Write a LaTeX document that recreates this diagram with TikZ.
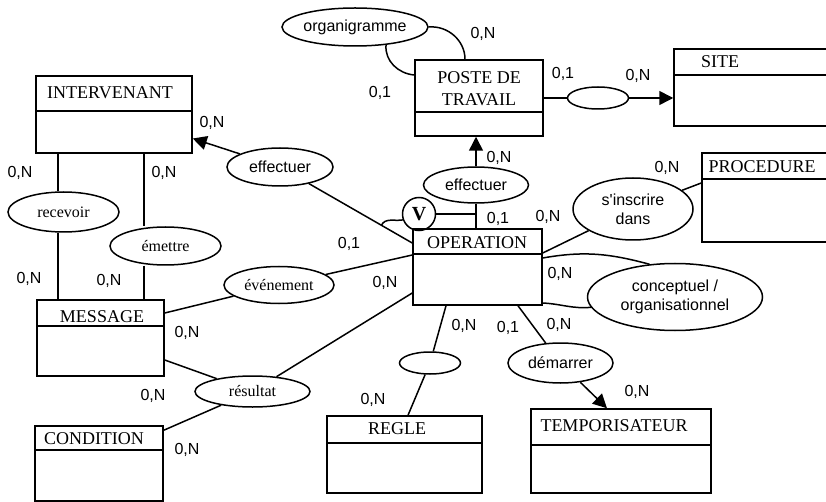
\documentclass[tikz,border=0pt]{standalone}
\usepackage{fontspec}
\setmainfont{Liberation Serif}
\setsansfont{Liberation Sans}
\font\droitsans="Liberation Sans" at 16pt
\usetikzlibrary{shapes.geometric,arrows.meta,calc}

\tikzset{
  entite/.style={draw, line width=1.5pt, rectangle, inner sep=0pt},
  titre/.style={font=\fontsize{18}{21.5}\selectfont, inner sep=0pt, align=center, text depth=0pt},
  asso/.style={draw, line width=1.5pt, ellipse, inner sep=0pt, align=center, font=\sffamily\fontsize{16}{19}\selectfont},
  assoserif/.style={asso, font=\rmfamily\fontsize{16}{19}\selectfont},
  card/.style={font=\sffamily\fontsize{16}{19}\selectfont, inner sep=0pt, text depth=0pt},
  lien/.style={line width=1.5pt},
  fleche/.style={line width=1.5pt, -{Triangle[length=14pt,width=14pt]}},
}

\begin{document}
\begin{tikzpicture}[x=1pt,y=-1pt]
\useasboundingbox (0,0) rectangle (826,502);

% entites
\node[entite, minimum width=128pt, minimum height=76pt] (poste) at (479,98) {};
\node[titre] (posteT) at (479,88.5) {POSTE DE\\TRAVAIL};
\draw[lien] (poste.west |- 0,112) -- (poste.east |- 0,112);

\node[entite, minimum width=176pt, minimum height=77pt] (site) at (762,87.5) {};
\node[titre] (siteT) at (720,62) {SITE};
\draw[lien] (site.west |- 0,75) -- (site.east |- 0,75);

\node[entite, minimum width=156pt, minimum height=77pt] (interv) at (114,114.5) {};
\node[titre] (intervT) at (110,93) {INTERVENANT};
\draw[lien] (interv.west |- 0,111) -- (interv.east |- 0,111);

\node[entite, minimum width=138pt, minimum height=89pt] (proc) at (771,197.5) {};
\node[titre] (procT) at (762,167) {PROCEDURE};
\draw[lien] (proc.west |- 0,179) -- (proc.east |- 0,179);

\node[entite, minimum width=129pt, minimum height=76pt] (oper) at (477.5,267) {};
\node[titre] (operT) at (477,243) {OPERATION};
\draw[lien] (oper.west |- 0,254) -- (oper.east |- 0,254);

\node[entite, minimum width=127pt, minimum height=76pt] (msg) at (100.5,338) {};
\node[titre] (msgT) at (102,317) {MESSAGE};
\draw[lien] (msg.west |- 0,326) -- (msg.east |- 0,326);

\node[entite, minimum width=128pt, minimum height=75pt] (cond) at (99,463.5) {};
\node[titre] (condT) at (94,439) {CONDITION};
\draw[lien] (cond.west |- 0,450) -- (cond.east |- 0,450);

\node[entite, minimum width=155pt, minimum height=77pt] (regle) at (404.5,454.5) {};
\node[titre] (regleT) at (397,429) {REGLE};
\draw[lien] (regle.west |- 0,443) -- (regle.east |- 0,443);

\node[entite, minimum width=180pt, minimum height=84pt] (tempo) at (621,451) {};
\node[titre] (tempoT) at (614,426) {TEMPORISATEUR};
\draw[lien] (tempo.west |- 0,445) -- (tempo.east |- 0,445);

% associations
\node[asso, minimum width=146pt, minimum height=38pt] (organi) at (355,27) {organigramme};
\node[asso, minimum width=61pt, minimum height=22pt] (rposte) at (598,98) {};
\node[asso, minimum width=106pt, minimum height=38pt] (effint) at (280,167) {effectuer};
\node[asso, minimum width=105pt, minimum height=36pt] (effpos) at (476,185) {effectuer};
\node[draw, line width=1.5pt, circle, inner sep=0pt, minimum size=33pt, font=\rmfamily\bfseries\fontsize{20}{22}\selectfont] (vcirc) at (419,214) {V};
\node[asso, minimum width=120pt, minimum height=62pt] (inscr) at (633,209) {s{\droitsans'}inscrire\\dans};
\node[asso, minimum width=175pt, minimum height=67pt] (concept) at (675,297) {conceptuel /\\organisationnel};
\node[assoserif, minimum width=111pt, minimum height=40pt] (recev) at (63.5,212) {recevoir};
\node[assoserif, minimum width=111pt, minimum height=38pt] (emet) at (165.5,246) {émettre};
\node[assoserif, minimum width=110pt, minimum height=37pt] (evt) at (279,285) {événement};
\node[assoserif, minimum width=115pt, minimum height=31pt] (result) at (252.5,391.5) {résultat};
\node[asso, minimum width=61pt, minimum height=22pt] (rregle) at (430,363) {};
\node[asso, minimum width=105pt, minimum height=40pt] (demarr) at (560.5,363) {démarrer};

% liens
\draw[lien] (organi.east) to[out=5,in=90] ([xshift=-14pt]poste.north);
\draw[lien] (organi.-30) to[out=-95,in=175] ([yshift=23pt]poste.west);
\draw[lien] (poste) -- (rposte);
\draw[fleche] (rposte.east) -- (rposte.east -| site.west);
\draw[fleche] (effint) -- ([yshift=-24pt]interv.east);
\draw[lien] (effint) -- ([yshift=24pt]oper.west);
\draw[fleche] (effpos.north) -- (effpos.north |- poste.south);
\draw[lien] (effpos.south) -- (effpos.south |- oper.north);
\draw[lien] (vcirc.east) -- (vcirc.east -| effpos.south);
\coordinate (vpied) at ($(effint)!0.767!([yshift=24pt]oper.west)$);
\draw[lien] (vcirc.200) to[out=190,in=65] (vpied);
\draw[lien] ([yshift=14pt]oper.east) -- (inscr);
\draw[lien] (inscr) -- ([yshift=14.5pt]proc.west);
\draw[lien] ([yshift=9pt]oper.east) to[out=10,in=165] (concept.128);
\draw[lien] ([yshift=-36pt]oper.east) to[out=-3,in=185] (concept.187);
\draw[lien] ([xshift=-5.5pt]recev.north |- interv.south) -- ([xshift=-5.5pt]recev.north);
\draw[lien] ([xshift=-5.5pt]recev.south) -- ([xshift=-5.5pt]recev.south |- msg.north);
\draw[lien] ([xshift=-21.5pt]emet.north |- interv.south) -- ([xshift=-21.5pt]emet.north);
\draw[lien] ([xshift=-21.5pt]emet.south) -- ([xshift=-21.5pt]emet.south |- msg.north);
\draw[lien] ([yshift=25pt]msg.east) -- (evt);
\draw[lien] (evt) -- ([yshift=12pt]oper.west);
\draw[lien] ([yshift=-22pt]msg.east) -- (result);
\draw[lien] (result) -- ([yshift=-26pt]oper.west);
\draw[lien] (result) -- ([yshift=-5pt]cond.north east);
\draw[lien] ([xshift=-31.5pt]oper.south) -- (rregle);
\draw[lien] (rregle) -- ([xshift=3.5pt]regle.north);
\draw[lien] ([xshift=40.5pt]oper.south) -- (demarr);
\draw[fleche] (demarr) -- ([xshift=-14pt]tempo.north);

% cardinalites
\node[card] (c01) at (483,33) {0,N};
\node[card] (c02) at (380,92) {0,1};
\node[card] (c03) at (563,73) {0,1};
\node[card] (c04) at (638,75) {0,N};
\node[card] (c05) at (212,122) {0,N};
\node[card] (c06) at (20,172) {0,N};
\node[card] (c07) at (164,172) {0,N};
\node[card] (c08) at (29,278) {0,N};
\node[card] (c09) at (109,280) {0,N};
\node[card] (c10) at (187,332) {0,N};
\node[card] (c11) at (385,282) {0,N};
\node[card] (c12) at (349,243) {0,1};
\node[card] (c13) at (153,395) {0,N};
\node[card] (c14) at (187,449) {0,N};
\node[card] (c15) at (373,399) {0,N};
\node[card] (c16) at (464,325) {0,N};
\node[card] (c17) at (508,327) {0,1};
\node[card] (c18) at (559,324) {0,N};
\node[card] (c19) at (637,391) {0,N};
\node[card] (c20) at (499,157) {0,N};
\node[card] (c21) at (498,218) {0,1};
\node[card] (c22) at (548,216) {0,N};
\node[card] (c23) at (667,167) {0,N};
\node[card] (c24) at (560,273) {0,N};
\end{tikzpicture}
\end{document}
